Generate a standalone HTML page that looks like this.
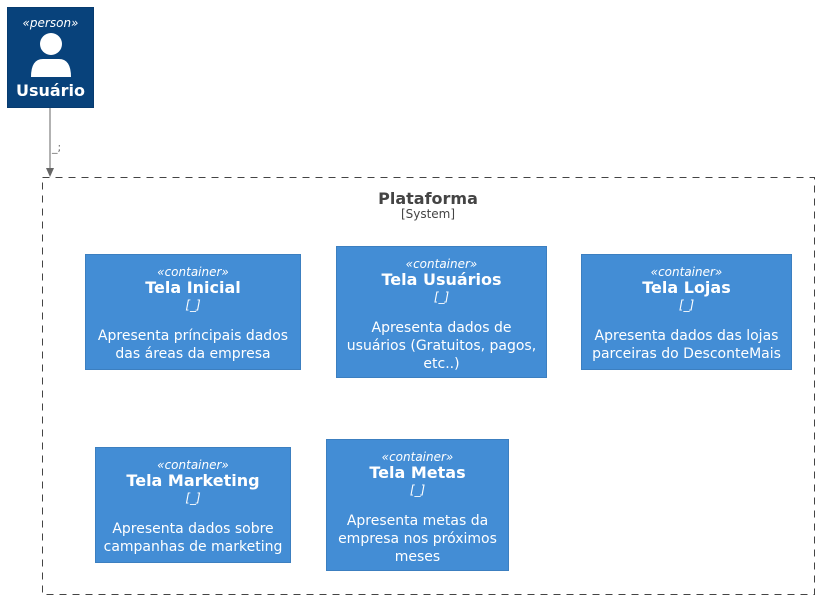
<!DOCTYPE html>
<html><head><meta charset="utf-8"><style>
body{margin:0;width:820px;height:600px;background:#fff;position:relative;font-family:"DejaVu Sans","Liberation Sans",sans-serif;overflow:hidden}
.b{position:absolute;box-sizing:border-box;background:#438dd5;border:1px solid #3c7fc0;color:#fff;text-align:center;padding-top:10px}
.s{font-size:12px;font-style:italic;line-height:14px}
.t{font-size:16px;font-weight:bold;line-height:18px}
.k{font-size:12px;font-style:italic;line-height:16px}
.d{font-size:14px;line-height:18px;margin-top:14px}
</style></head><body>
<div class="b" style="left:7px;top:7px;width:87px;height:101px;background:#08427b;border-color:#073b6f;padding-top:8px">
<div class="s">«person»</div>
<svg width="44" height="48" viewBox="0 0 44 48" style="display:block;margin:1px auto 0"><circle cx="22" cy="13" r="11" fill="#fff"/><path d="M2 46 Q2 28 14 28 L30 28 Q42 28 42 46 Z" fill="#fff"/></svg>
<div style="font-size:16px;font-weight:bold;line-height:20px;margin-top:2px">Usuário</div>
</div>
<svg width="820" height="600" style="position:absolute;left:0;top:0">
<line x1="50" y1="108" x2="50" y2="170" stroke="#666" stroke-width="1"/>
<polygon points="46,168 54,168 50,177" fill="#666"/>
<text x="52" y="151" font-size="11" fill="#666" font-family="DejaVu Sans,sans-serif">_;</text>
<rect x="42.5" y="177.5" width="772" height="417" fill="none" stroke="#444" stroke-dasharray="7,6"/>
<text x="428" y="204" text-anchor="middle" font-size="16" font-weight="bold" fill="#444" font-family="DejaVu Sans,sans-serif">Plataforma</text>
<text x="428" y="218" text-anchor="middle" font-size="12" fill="#444" font-family="DejaVu Sans,sans-serif">[System]</text>
</svg>
<div class="b" style="left:85px;top:254px;width:216px;height:116px"><div class="s">«container»</div><div class="t">Tela Inicial</div><div class="k">[_]</div><div class="d">Apresenta príncipais dados<br>das áreas da empresa</div></div>
<div class="b" style="left:336px;top:246px;width:211px;height:132px"><div class="s">«container»</div><div class="t">Tela Usuários</div><div class="k">[_]</div><div class="d">Apresenta dados de<br>usuários (Gratuitos, pagos,<br>etc..)</div></div>
<div class="b" style="left:581px;top:254px;width:211px;height:116px"><div class="s">«container»</div><div class="t">Tela Lojas</div><div class="k">[_]</div><div class="d">Apresenta dados das lojas<br>parceiras do DesconteMais</div></div>
<div class="b" style="left:95px;top:447px;width:196px;height:116px"><div class="s">«container»</div><div class="t">Tela Marketing</div><div class="k">[_]</div><div class="d">Apresenta dados sobre<br>campanhas de marketing</div></div>
<div class="b" style="left:326px;top:439px;width:183px;height:132px"><div class="s">«container»</div><div class="t">Tela Metas</div><div class="k">[_]</div><div class="d">Apresenta metas da<br>empresa nos próximos<br>meses</div></div>
</body></html>
